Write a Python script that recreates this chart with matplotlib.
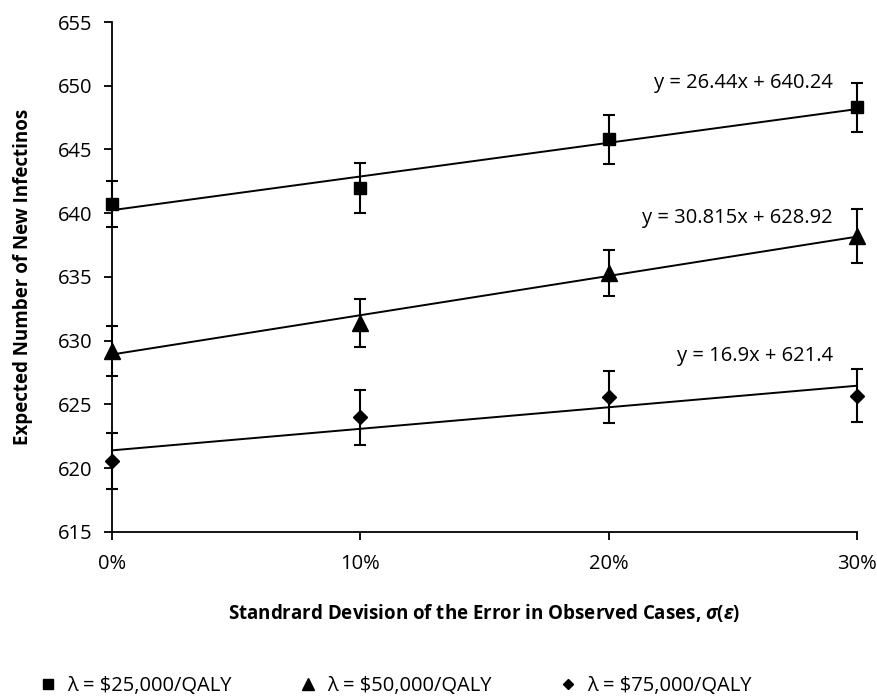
import matplotlib
matplotlib.use("Agg")
import matplotlib.pyplot as plt
import numpy as np
from matplotlib.ticker import MultipleLocator
from matplotlib.lines import Line2D

plt.rcParams['font.family'] = ['Open Sans', 'DejaVu Sans']
plt.rcParams['mathtext.fontset'] = 'custom'
plt.rcParams['mathtext.it'] = 'Open Sans:italic:bold'
plt.rcParams['mathtext.rm'] = 'Open Sans:bold'

x = [0.0, 0.1, 0.2, 0.3]
xticklabels = ['0%', '10%', '20%', '30%']
labels = ['λ = $25,000/QALY', 'λ = $50,000/QALY', 'λ = $75,000/QALY']

y25 = [640.7, 642.0, 645.8, 648.3]
y50 = [629.2, 631.4, 635.3, 638.2]
y75 = [620.6, 624.0, 625.6, 625.7]
err25 = [1.8, 1.95, 1.9, 1.95]
err50 = [1.95, 1.9, 1.8, 2.1]
err75 = [2.2, 2.15, 2.05, 2.05]

slopes = [26.44, 30.815, 16.9]
intercepts = [640.24, 628.92, 621.4]
eq_texts = ['y = 26.44x + 640.24', 'y = 30.815x + 628.92', 'y = 16.9x + 621.4']
eq_y = [650.2, 639.6, 628.8]

FS = 14.5

fig = plt.figure(figsize=(8.78, 6.99), dpi=100)
ax = fig.add_axes([0.1276, 0.239, 0.8485, 0.7295])

series = [(y25, err25, 's', 9), (y50, err50, '^', 11), (y75, err75, 'D', 7)]
for (yv, ev, m, ms), s, b in zip(series, slopes, intercepts):
    ax.errorbar(x, yv, yerr=ev, fmt=m, color='black', ms=ms, capsize=4.5,
                elinewidth=1.5, capthick=1.5, clip_on=False, zorder=3)
    xx = np.array([x[0], x[-1]])
    ax.plot(xx, s * xx + b, color='black', lw=1.4, zorder=2, clip_on=False)

for t, ty in zip(eq_texts, eq_y):
    ax.text(0.2903, ty, t, ha='right', va='center', fontsize=FS)

ax.set_xlim(0, 0.3)
ax.set_ylim(615, 655)
ax.set_xticks(x)
ax.set_xticklabels(xticklabels, fontsize=FS)
ax.yaxis.set_major_locator(MultipleLocator(5))
ax.tick_params(axis='y', labelsize=FS, direction='out', length=6, width=1.3, pad=8)
ax.tick_params(axis='x', direction='out', length=6, width=1.3, pad=10)
for sp in ['top', 'right']:
    ax.spines[sp].set_visible(False)
for sp in ['left', 'bottom']:
    ax.spines[sp].set_linewidth(1.3)

ax.set_ylabel('Expected Number of New Infectinos', fontsize=13.5, fontweight='bold', labelpad=18)
ax.set_xlabel(r'Standrard Devision of the Error in Observed Cases, $\sigma(\varepsilon)$',
              fontsize=13.5, fontweight='bold', labelpad=20)

handles = [Line2D([], [], marker=m, color='black', ls='none', ms=ms * 0.8)
           for (_, _, m, ms) in series]
fig.legend(handles, labels, loc='center', bbox_to_anchor=(0.45, 0.018), ncol=3,
           frameon=False, fontsize=FS, columnspacing=3.3, handlelength=1.0,
           handletextpad=0.45)

fig.savefig('out.png', dpi=100)
